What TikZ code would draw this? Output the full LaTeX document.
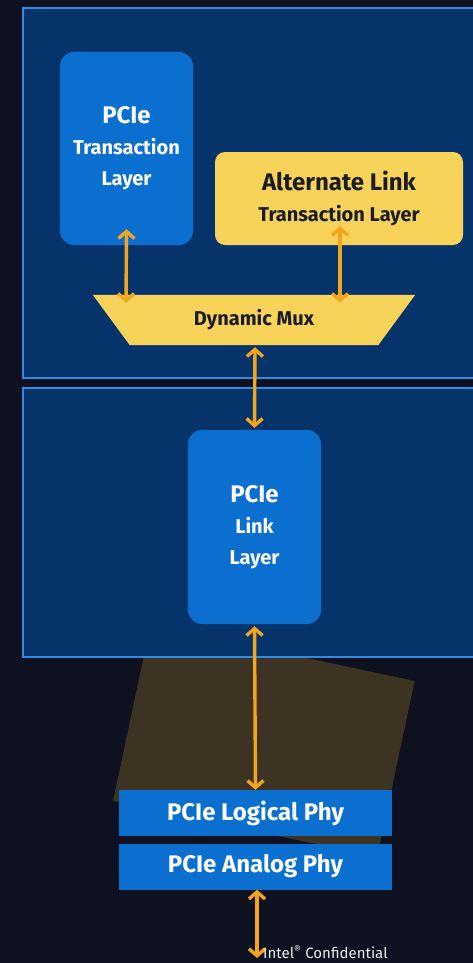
\documentclass[tikz,border=0pt]{standalone}
\usepackage{fontspec}
\setmainfont{Fira Sans}
\usetikzlibrary{arrows.meta,calc}
\definecolor{bgdark}{HTML}{0E1220}
\definecolor{panelfill}{HTML}{07336B}
\definecolor{panelline}{HTML}{2E8BE8}
\definecolor{boxblue}{HTML}{0B6FCF}
\definecolor{boxyellow}{HTML}{F8D35A}
\definecolor{arrowc}{HTML}{F2A51E}
\definecolor{darktext}{HTML}{1B1B28}
\definecolor{glow}{HTML}{8A6A26}
\tikzset{
  panel/.style={draw=panelline, line width=2pt, fill=panelfill},
  bluebox/.style={fill=boxblue, rounded corners=14pt, text=white, align=center,
    font=\bfseries\fontsize{20}{31}\selectfont, inner sep=0pt},
  yellowbox/.style={fill=boxyellow, rounded corners=10pt, text=darktext, align=center,
    font=\bfseries\fontsize{20}{31}\selectfont, inner sep=0pt},
  phybox/.style={fill=boxblue, text=white, font=\bfseries\fontsize{24}{28}\selectfont,
    minimum width=273pt, minimum height=46pt, inner sep=0pt},
  link/.style={draw=arrowc, line width=3.4pt,
    {Straight Barb[length=7pt,width=16pt]}-{Straight Barb[length=7pt,width=16pt]}}
}
\begin{document}
\begin{tikzpicture}[x=1pt,y=-1pt]
\useasboundingbox (0,0) rectangle (473,963);
\fill[bgdark] (0,0) rectangle (473,963);
\fill[glow, fill opacity=0.38, rotate around={-12:(260,735)}] (130,650) rectangle (400,830);
\draw[panel] (23,8) rectangle (485,378);
\draw[panel] (23,388) rectangle (485,657);

\node[bluebox, minimum width=133pt, minimum height=193pt] (ptl) at (126.5,148.5)
  {{\fontsize{24}{31}\selectfont PCIe}\\Transaction\\Layer};
\node[yellowbox, minimum width=248pt, minimum height=93pt] (alt) at (339,198.5)
  {{\fontsize{24}{31}\selectfont Alternate Link}\\Transaction Layer};

\node[minimum width=322pt, minimum height=50pt, inner sep=0pt] (mux) at (254,320) {};
\fill[boxyellow] (mux.north west) -- (mux.north east)
  -- ($(mux.south east)+(-37,0)$) -- ($(mux.south west)+(37,0)$) -- cycle;
\node[text=darktext, font=\bfseries\fontsize{20}{24}\selectfont] at (mux.center) {Dynamic Mux};

\node[bluebox, minimum width=133pt, minimum height=194pt] (pll) at (254.5,527)
  {{\fontsize{24}{31}\selectfont PCIe}\\Link\\Layer};

\node[phybox] (lphy) at (255.5,813) {PCIe Logical Phy};
\node[phybox] (aphy) at (255.5,866.5) {PCIe Analog Phy};
\coordinate (wire) at (257,958);

\draw[link] ($(ptl.south)+(0,-16)$) -- ($(mux.north)+(-128,8)$);
\draw[link] ($(alt.south)+(1,-19)$) -- ($(mux.north)+(86,8)$);
\draw[link] ($(mux.south)+(1,2)$) -- ($(pll.north)+(0,-2)$);
\draw[link] ($(pll.south)+(0,2)$) -- ($(lphy.north)+(0,0)$);
\draw[link] ($(aphy.south)+(1.5,0)$) -- (wire);

\node[anchor=north west, inner sep=0pt, text=white!85!gray, font=\fontsize{15}{17}\selectfont] (conf) at (263,945) {Intel\textsuperscript{®} Confidential};
\end{tikzpicture}
\end{document}
